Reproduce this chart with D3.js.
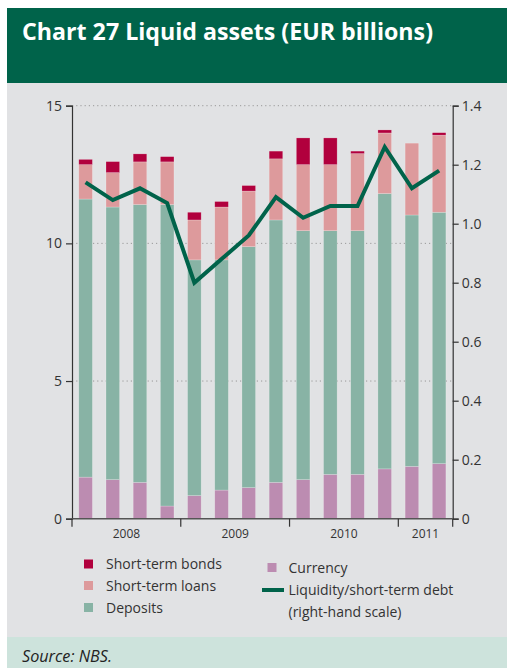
<!DOCTYPE html>
<html>
<head>
<meta charset="utf-8">
<script src="https://cdn.jsdelivr.net/npm/d3@7"></script>
<style>
  html, body { margin: 0; padding: 0; background: #ffffff; }
  svg { display: block; font-family: "Open Sans", "Noto Sans", sans-serif; }
</style>
</head>
<body>
<svg id="chart" width="507" height="668"></svg>
<script>
// Quarterly liquid assets, EUR billions
const quarters = ["2008Q1","2008Q2","2008Q3","2008Q4","2009Q1","2009Q2","2009Q3","2009Q4",
                  "2010Q1","2010Q2","2010Q3","2010Q4","2011Q1","2011Q2"];
const years = ["2008", "2009", "2010", "2011"];
const currency  = [1.51, 1.42, 1.32, 0.46, 0.84, 1.04, 1.13, 1.32, 1.42, 1.61, 1.61, 1.81, 1.90, 2.00];
const deposits  = [10.10, 9.90, 10.09, 10.95, 8.56, 8.36, 8.75, 9.53, 9.04, 8.85, 8.85, 10.00, 9.13, 9.13];
const loans     = [1.25, 1.25, 1.55, 1.55, 1.45, 1.92, 2.02, 2.22, 2.40, 2.40, 2.80, 2.20, 2.61, 2.80];
const bonds     = [0.19, 0.40, 0.29, 0.19, 0.28, 0.20, 0.20, 0.28, 0.97, 0.97, 0.09, 0.11, 0.00, 0.09];
// Liquidity / short-term debt (right-hand scale)
const ratio     = [1.14, 1.08, 1.12, 1.07, 0.80, 0.88, 0.96, 1.09, 1.02, 1.06, 1.06, 1.26, 1.12, 1.18];
const leftTicks  = [0, 5, 10, 15];
const rightTicks = [0, 0.2, 0.4, 0.6, 0.8, 1.0, 1.2, 1.4];

const seriesNames = ["Currency", "Deposits", "Short-term loans", "Short-term bonds"];
const seriesData  = [currency, deposits, loans, bonds];
const colors = {
  "Currency": "#bc8cb1",
  "Deposits": "#88b3a5",
  "Short-term loans": "#dd9a9c",
  "Short-term bonds": "#b1003d"
};
const lineColor = "#00634a";

const svg = d3.select("#chart");

// Panels
svg.append("rect").attr("x", 7).attr("y", 8).attr("width", 500).attr("height", 76).attr("fill", "#00634a");
svg.append("rect").attr("x", 7).attr("y", 83).attr("width", 500).attr("height", 554).attr("fill", "#e1e2e4");
svg.append("rect").attr("x", 7).attr("y", 637).attr("width", 500).attr("height", 31).attr("fill", "#cde3dc");

svg.append("text")
  .attr("x", 22).attr("y", 40)
  .attr("fill", "#ffffff")
  .attr("font-size", 24).attr("font-weight", 700)
  .attr("textLength", 411).attr("lengthAdjust", "spacingAndGlyphs")
  .text("Chart 27 Liquid assets (EUR billions)");

svg.append("text")
  .attr("x", 22).attr("y", 662)
  .attr("fill", "#222")
  .attr("font-size", 16).attr("font-style", "italic")
  .attr("textLength", 90).attr("lengthAdjust", "spacingAndGlyphs")
  .text("Source: NBS.");

// Plot area
const x0 = 72, x1 = 452.7, yTop = 105.7, yBot = 518.7;

const x = d3.scaleBand().domain(quarters).range([x0, x1]).paddingInner(0.5).paddingOuter(0.25);
const yL = d3.scaleLinear().domain([0, 15]).range([yBot, yTop]);
const yR = d3.scaleLinear().domain([0, 1.4]).range([yBot, yTop]);

// Dotted gridlines at left-axis ticks
svg.append("g").selectAll("line").data(leftTicks.filter(d => d > 0)).join("line")
  .attr("x1", x0).attr("x2", x1)
  .attr("y1", d => yL(d)).attr("y2", d => yL(d))
  .attr("stroke", "#999").attr("stroke-width", 1).attr("stroke-dasharray", "1.2,3");

// Stacked bars
const rows = quarters.map((q, i) => {
  const r = { q };
  seriesNames.forEach((s, k) => r[s] = seriesData[k][i]);
  return r;
});
const stack = d3.stack().keys(seriesNames)(rows);

svg.append("g").selectAll("g").data(stack).join("g")
  .attr("fill", d => colors[d.key])
  .selectAll("rect").data(d => d).join("rect")
  .attr("x", d => x(d.data.q))
  .attr("width", x.bandwidth())
  .attr("y", d => yL(d[1]))
  .attr("height", d => Math.max(0, yL(d[0]) - yL(d[1])))
  .attr("stroke", "rgba(255,255,255,0.35)").attr("stroke-width", 0.6);

// Ratio line
const line = d3.line().x((d, i) => x(quarters[i]) + x.bandwidth() / 2).y(d => yR(d));
svg.append("path").datum(ratio)
  .attr("d", line)
  .attr("fill", "none").attr("stroke", lineColor)
  .attr("stroke-width", 4).attr("stroke-linejoin", "miter");

// Axes
const axisColor = "#333";
const gL = svg.append("g").attr("transform", `translate(${x0},0)`)
  .call(d3.axisLeft(yL).tickValues(leftTicks).tickSize(6).tickPadding(4).tickFormat(d3.format("d")));
const gR = svg.append("g").attr("transform", `translate(${x1},0)`)
  .call(d3.axisRight(yR).tickValues(rightTicks).tickSize(6).tickPadding(3)
    .tickFormat(d => d === 0 ? "0" : d3.format(".1f")(d)));
[gL, gR].forEach(g => {
  g.select(".domain").attr("stroke", axisColor).attr("stroke-width", 1.2);
  g.selectAll(".tick line").attr("stroke", axisColor).attr("stroke-width", 1.2);
  g.selectAll(".tick text").attr("fill", "#333").attr("font-size", 14)
    .attr("font-family", "'Open Sans', sans-serif");
});

// Bottom axis with year separators
const yearScale = d3.scaleBand().domain(years).range([x0, x1]);
const yearBounds = [x0, x(quarters[4]) - x.step() * x.paddingInner() / 2,
  x(quarters[8]) - x.step() * x.paddingInner() / 2,
  x(quarters[12]) - x.step() * x.paddingInner() / 2, x1];
const gB = svg.append("g");
gB.append("line").attr("x1", x0).attr("x2", x1).attr("y1", yBot).attr("y2", yBot)
  .attr("stroke", "#555").attr("stroke-width", 1.6);
gB.selectAll("line.sep").data(yearBounds).join("line").attr("class", "sep")
  .attr("x1", d => d).attr("x2", d => d).attr("y1", yBot).attr("y2", yBot + 8)
  .attr("stroke", axisColor).attr("stroke-width", 1.2);
gB.selectAll("text").data(years).join("text")
  .attr("x", (d, i) => (yearBounds[i] + yearBounds[i + 1]) / 2)
  .attr("y", 538)
  .attr("text-anchor", "middle").attr("font-size", 12).attr("fill", "#333")
  .text(d => d);

// Legend
const leg = svg.append("g").attr("font-size", 14).attr("fill", "#333");
const leftItems = ["Short-term bonds", "Short-term loans", "Deposits"];
const legYs = [564, 585.5, 607.5];
leftItems.forEach((name, i) => {
  leg.append("rect").attr("x", 84).attr("y", legYs[i] - 4.5).attr("width", 9).attr("height", 9)
    .attr("fill", colors[name]);
  leg.append("text").attr("x", 106).attr("y", legYs[i] + 5).attr("fill", "#333").text(name);
});
leg.append("rect").attr("x", 267.5).attr("y", 567.5 - 4.5).attr("width", 9).attr("height", 9)
  .attr("fill", colors["Currency"]);
leg.append("text").attr("x", 288.5).attr("y", 567.5 + 5).attr("fill", "#333").text("Currency");
leg.append("line").attr("x1", 262).attr("x2", 284).attr("y1", 590).attr("y2", 590)
  .attr("stroke", lineColor).attr("stroke-width", 4);
leg.append("text").attr("x", 288.5).attr("y", 590 + 5).attr("fill", "#333").text("Liquidity/short-term debt");
leg.append("text").attr("x", 288.5).attr("y", 612 + 5).attr("fill", "#333").text("(right-hand scale)");
</script>
</body>
</html>
